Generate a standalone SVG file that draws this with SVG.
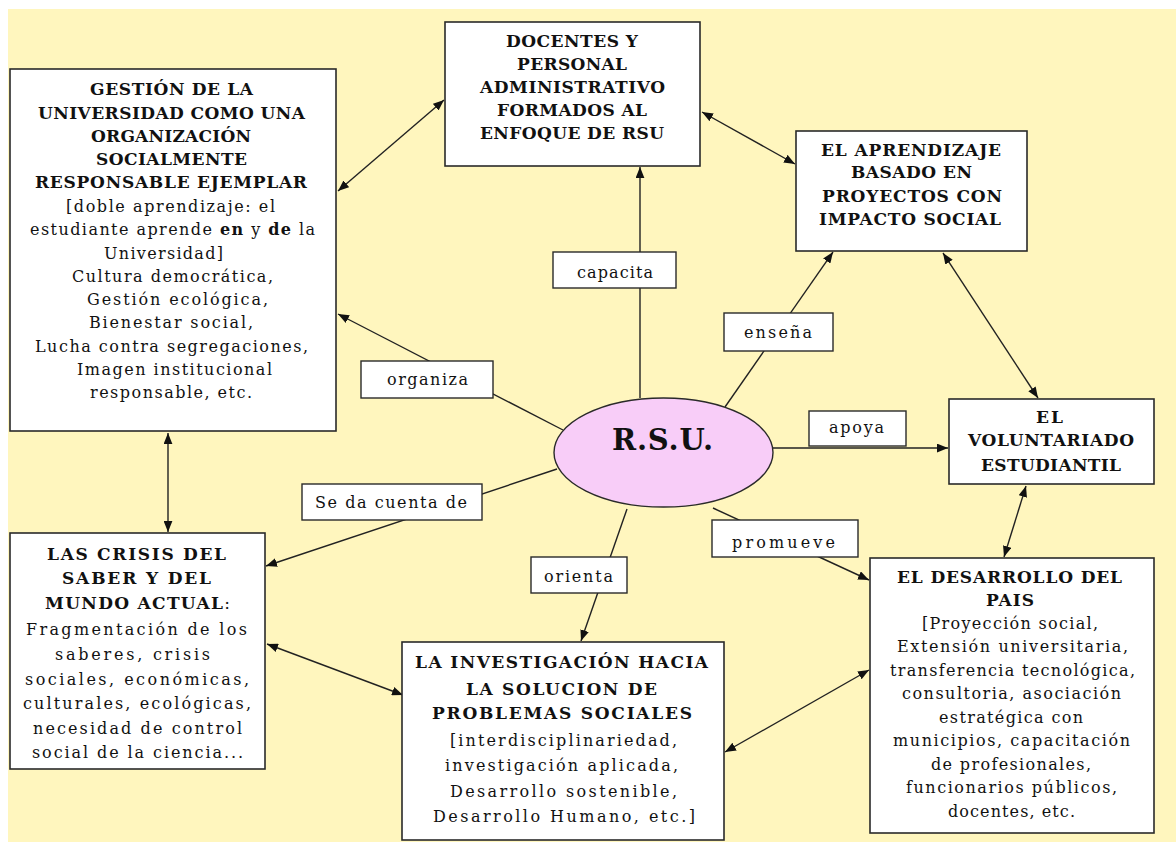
<svg xmlns="http://www.w3.org/2000/svg" width="1176" height="842" viewBox="0 0 1176 842">
<style>
.bg{fill:#FFF6BE}
.bx{fill:#ffffff;stroke:#2a2a2a;stroke-width:1.6}
.lb{fill:#ffffff;stroke:#2a2a2a;stroke-width:1.4}
.t{font-family:"DejaVu Serif","Liberation Serif",serif;font-size:16px;fill:#111}
.b{font-weight:bold;font-size:17px}
.big{font-weight:bold;font-size:29px}
.c{stroke:#222;stroke-width:1.4;fill:none}
.s{marker-end:url(#ah)}
.d{marker-start:url(#ah);marker-end:url(#ah)}
</style>
<defs>
<marker id="ah" viewBox="0 0 10 8" refX="10" refY="4" markerWidth="11" markerHeight="9" markerUnits="userSpaceOnUse" orient="auto-start-reverse">
<path d="M0,0 L10,4 L0,8 z" fill="#111"/>
</marker>
</defs>
<rect x="0" y="0" width="1176" height="842" fill="#ffffff"/>
<rect class="bg" x="8" y="9" width="1168" height="833"/>

<g id="connectors">
<line class="c s" x1="640" y1="398" x2="640" y2="167"/>
<line class="c s" x1="563" y1="430" x2="338" y2="314"/>
<line class="c s" x1="557" y1="469" x2="266" y2="566"/>
<line class="c s" x1="627" y1="509" x2="581" y2="641"/>
<line class="c s" x1="713" y1="508" x2="869" y2="580"/>
<line class="c s" x1="773" y1="448" x2="948" y2="448"/>
<line class="c s" x1="725" y1="407" x2="833" y2="252"/>
<line class="c d" x1="338" y1="191" x2="444" y2="100"/>
<line class="c d" x1="702" y1="112" x2="795" y2="164"/>
<line class="c d" x1="943" y1="253" x2="1038" y2="398"/>
<line class="c d" x1="1026" y1="486" x2="1004" y2="557"/>
<line class="c d" x1="168" y1="433" x2="168" y2="532"/>
<line class="c d" x1="267" y1="644" x2="403" y2="695"/>
<line class="c d" x1="725" y1="752" x2="869" y2="670"/>
</g>

<g id="rsu">
<ellipse cx="663.5" cy="452.5" rx="109.5" ry="54.5" fill="#F8CDF8" stroke="#2a2a2a" stroke-width="1.4"/>
<text class="t big" x="612" y="450" textLength="101" lengthAdjust="spacing">R.S.U.</text>
</g>

<g id="gestion">
<rect class="bx" x="10" y="69" width="326" height="362"/>
<text class="t b" x="90" y="95" textLength="163" lengthAdjust="spacing">GESTIÓN DE LA</text>
<text class="t b" x="38" y="119" textLength="267" lengthAdjust="spacing">UNIVERSIDAD COMO UNA</text>
<text class="t b" x="91" y="142" textLength="160" lengthAdjust="spacing">ORGANIZACIÓN</text>
<text class="t b" x="96" y="165" textLength="151" lengthAdjust="spacing">SOCIALMENTE</text>
<text class="t b" x="35" y="188" textLength="272" lengthAdjust="spacing">RESPONSABLE EJEMPLAR</text>
<text class="t" x="66" y="212" textLength="209" lengthAdjust="spacing">[doble aprendizaje: el</text>
<text class="t" x="30" y="235" textLength="285" lengthAdjust="spacing">estudiante aprende <tspan font-weight="bold">en</tspan> y <tspan font-weight="bold">de</tspan> la</text>
<text class="t" x="104" y="259" textLength="119" lengthAdjust="spacing">Universidad]</text>
<text class="t" x="72" y="282" textLength="201" lengthAdjust="spacing">Cultura democrática,</text>
<text class="t" x="87" y="305" textLength="181" lengthAdjust="spacing">Gestión ecológica,</text>
<text class="t" x="89" y="328" textLength="164" lengthAdjust="spacing">Bienestar social,</text>
<text class="t" x="35" y="352" textLength="273" lengthAdjust="spacing">Lucha contra segregaciones,</text>
<text class="t" x="77" y="375" textLength="195" lengthAdjust="spacing">Imagen institucional</text>
<text class="t" x="90" y="398" textLength="162" lengthAdjust="spacing">responsable, etc.</text>
</g>

<g id="docentes">
<rect class="bx" x="445" y="22" width="255" height="144"/>
<text class="t b" x="506" y="47" textLength="132" lengthAdjust="spacing">DOCENTES Y</text>
<text class="t b" x="517" y="70" textLength="110" lengthAdjust="spacing">PERSONAL</text>
<text class="t b" x="480" y="93" textLength="185" lengthAdjust="spacing">ADMINISTRATIVO</text>
<text class="t b" x="497" y="116" textLength="150" lengthAdjust="spacing">FORMADOS AL</text>
<text class="t b" x="480" y="139" textLength="184" lengthAdjust="spacing">ENFOQUE DE RSU</text>
</g>

<g id="aprendizaje">
<rect class="bx" x="796" y="131" width="231" height="120"/>
<text class="t b" x="821" y="156" textLength="180" lengthAdjust="spacing">EL APRENDIZAJE</text>
<text class="t b" x="851" y="178" textLength="121" lengthAdjust="spacing">BASADO EN</text>
<text class="t b" x="822" y="202" textLength="180" lengthAdjust="spacing">PROYECTOS CON</text>
<text class="t b" x="819" y="225" textLength="182" lengthAdjust="spacing">IMPACTO SOCIAL</text>
</g>

<g id="voluntariado">
<rect class="bx" x="949" y="399" width="205" height="85"/>
<text class="t b" x="1036" y="423" textLength="27" lengthAdjust="spacing">EL</text>
<text class="t b" x="968" y="446" textLength="166" lengthAdjust="spacing">VOLUNTARIADO</text>
<text class="t b" x="981" y="471" textLength="140" lengthAdjust="spacing">ESTUDIANTIL</text>
</g>

<g id="desarrollo">
<rect class="bx" x="870" y="558" width="284" height="275"/>
<text class="t b" x="897" y="583" textLength="225" lengthAdjust="spacing">EL DESARROLLO DEL</text>
<text class="t b" x="986" y="606" textLength="48" lengthAdjust="spacing">PAIS</text>
<text class="t" x="922" y="629" textLength="176" lengthAdjust="spacing">[Proyección social,</text>
<text class="t" x="897" y="652" textLength="231" lengthAdjust="spacing">Extensión universitaria,</text>
<text class="t" x="890" y="676" textLength="245" lengthAdjust="spacing">transferencia tecnológica,</text>
<text class="t" x="902" y="699" textLength="219" lengthAdjust="spacing">consultoria, asociación</text>
<text class="t" x="939" y="723" textLength="144" lengthAdjust="spacing">estratégica con</text>
<text class="t" x="893" y="746" textLength="237" lengthAdjust="spacing">municipios, capacitación</text>
<text class="t" x="931" y="770" textLength="160" lengthAdjust="spacing">de profesionales,</text>
<text class="t" x="906" y="793" textLength="211" lengthAdjust="spacing">funcionarios públicos,</text>
<text class="t" x="948" y="817" textLength="127" lengthAdjust="spacing">docentes, etc.</text>
</g>

<g id="crisis">
<rect class="bx" x="10" y="533" width="255" height="236"/>
<text class="t b" x="47" y="560" textLength="179" lengthAdjust="spacing">LAS CRISIS DEL</text>
<text class="t b" x="62" y="584" textLength="149" lengthAdjust="spacing">SABER Y DEL</text>
<text class="t b" x="45" y="609" textLength="185" lengthAdjust="spacing">MUNDO ACTUAL<tspan font-weight="normal">:</tspan></text>
<text class="t" x="26" y="635" textLength="221" lengthAdjust="spacing">Fragmentación de los</text>
<text class="t" x="55" y="660" textLength="155" lengthAdjust="spacing">saberes, crisis</text>
<text class="t" x="25" y="685" textLength="224" lengthAdjust="spacing">sociales, económicas,</text>
<text class="t" x="23" y="709" textLength="228" lengthAdjust="spacing">culturales, ecológicas,</text>
<text class="t" x="33" y="734" textLength="209" lengthAdjust="spacing">necesidad de control</text>
<text class="t" x="32" y="758" textLength="211" lengthAdjust="spacing">social de la ciencia...</text>
</g>

<g id="investigacion">
<rect class="bx" x="402" y="642" width="322" height="198"/>
<text class="t b" x="415" y="668" textLength="293" lengthAdjust="spacing">LA INVESTIGACIÓN HACIA</text>
<text class="t b" x="466" y="695" textLength="191" lengthAdjust="spacing">LA SOLUCION DE</text>
<text class="t b" x="432" y="719" textLength="260" lengthAdjust="spacing">PROBLEMAS SOCIALES</text>
<text class="t" x="450" y="746" textLength="227" lengthAdjust="spacing">[interdisciplinariedad,</text>
<text class="t" x="445" y="771" textLength="233" lengthAdjust="spacing">investigación aplicada,</text>
<text class="t" x="450" y="797" textLength="227" lengthAdjust="spacing">Desarrollo sostenible,</text>
<text class="t" x="433" y="822" textLength="262" lengthAdjust="spacing">Desarrollo Humano, etc.]</text>
</g>

<g id="lbl-capacita">
<rect class="lb" x="553" y="252" width="123" height="36"/>
<text class="t" x="577" y="278" textLength="76" lengthAdjust="spacing">capacita</text>
</g>
<g id="lbl-organiza">
<rect class="lb" x="361" y="361" width="132" height="37"/>
<text class="t" x="387" y="385" textLength="81" lengthAdjust="spacing">organiza</text>
</g>
<g id="lbl-seda">
<rect class="lb" x="302" y="484" width="180" height="36"/>
<text class="t" x="315" y="508" textLength="152" lengthAdjust="spacing">Se da cuenta de</text>
</g>
<g id="lbl-ensena">
<rect class="lb" x="724" y="313" width="109" height="38"/>
<text class="t" x="744" y="338" textLength="68" lengthAdjust="spacing">enseña</text>
</g>
<g id="lbl-apoya">
<rect class="lb" x="809" y="411" width="97" height="35"/>
<text class="t" x="829" y="433" textLength="55" lengthAdjust="spacing">apoya</text>
</g>
<g id="lbl-promueve">
<rect class="lb" x="712" y="520" width="146" height="37"/>
<text class="t" x="732" y="548" textLength="103" lengthAdjust="spacing">promueve</text>
</g>
<g id="lbl-orienta">
<rect class="lb" x="531" y="557" width="96" height="36"/>
<text class="t" x="544" y="582" textLength="69" lengthAdjust="spacing">orienta</text>
</g>
</svg>
